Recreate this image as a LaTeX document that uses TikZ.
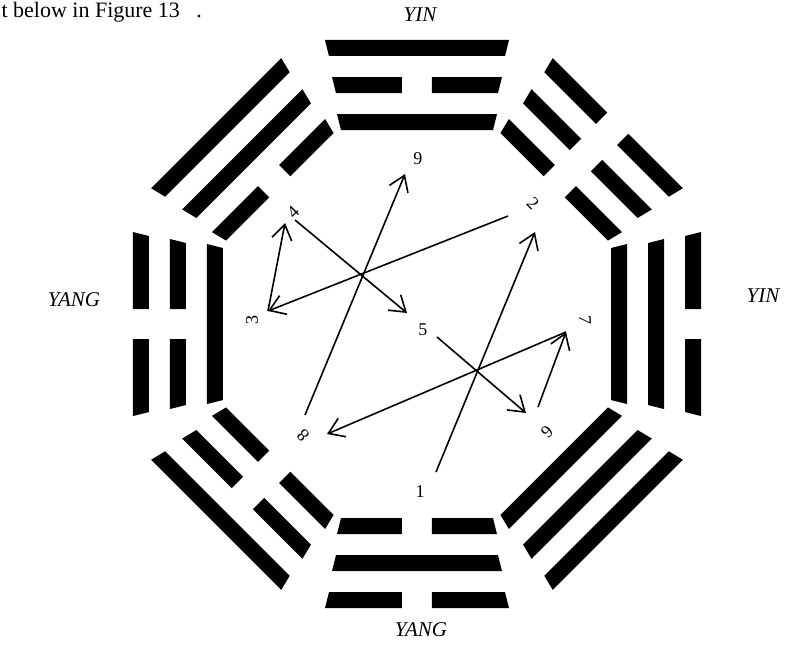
\documentclass[tikz,border=0pt]{standalone}
\usepackage{fontspec}
\setmainfont{Liberation Serif}
\usetikzlibrary{arrows.meta}

% one line of a trigram: inner radius, inner half width, 1 = whole / 0 = broken
\newcommand{\yao}[3]{%
	\ifnum#3=1
		\fill (-#2,#1) -- (#2,#1) -- ({#2+4},{#1+16}) -- ({-#2-4},{#1+16}) -- cycle;
	\else
		\fill (-#2,#1) -- (-15,#1) -- (-15,{#1+16}) -- ({-#2-4},{#1+16}) -- cycle;
		\fill (#2,#1) -- (15,#1) -- (15,{#1+16}) -- ({#2+4},{#1+16}) -- cycle;
	\fi}

\tikzset{
	arr/.style={line width=1.6pt,-{Straight Barb[length=15pt,width=20pt,line width=1.6pt]}},
	num/.style={font=\fontsize{18}{20}\selectfont,inner sep=1pt},
	side/.style={font=\fontsize{21}{25}\selectfont\itshape}
}

\begin{document}
\begin{tikzpicture}[x=1pt,y=1pt]
			\useasboundingbox (-417,-322) rectangle (370,324);
			\node[anchor=base west,font=\fontsize{22}{26}\selectfont] (txt) at (-419,306) {t below in Figure 13 \ \ .};
			% trigrams, inner/middle/outer line
			\foreach \ang/\a/\b/\c in {0/1/0/1,-45/0/0/0,-90/1/1/0,-135/1/1/1,180/0/1/0,135/0/0/1,90/1/0/0,45/0/1/1}{
				\begin{scope}[rotate=\ang]
				\yao{194}{76}{\a}
				\yao{231}{81}{\b}
				\yao{268}{88}{\c}
				\end{scope}
			}
			\node[side] (yinN) at (3,309) {YIN};
			\node[side] (yangS) at (4,-306) {YANG};
			\node[side] (yangW) at (-343,24) {YANG};
			\node[side] (yinE) at (346,28) {YIN};
			% numbers
			\node[num] (n9) at (1,165) {9};
			\node[num,rotate=45] (n4) at (-124,112) {4};
			\node[num,rotate=90] (n3) at (-165,4) {3};
			\node[num,rotate=-45] (n2) at (116,121) {2};
			\node[num] (n5) at (6,-6) {5};
			\node[num,rotate=-90] (n7) at (168,4) {7};
			\node[num,rotate=-135] (n6) at (130,-108) {6};
			\node[num,rotate=135] (n8) at (-114,-111) {8};
			\node[num] (n1) at (3,-168) {1};
			% ends of the path
			\coordinate (s1) at (19,-148);
			\coordinate (t2) at (118,92);
			\coordinate (s2) at (91,108);
			\coordinate (c3) at (-149,13);
			\coordinate (t4) at (-132,101);
			\coordinate (s4) at (-122,104);
			\coordinate (t5) at (-10,11);
			\coordinate (s5) at (20,-13);
			\coordinate (t6) at (109,-89);
			\coordinate (s6) at (121,-83);
			\coordinate (c7) at (149,-8);
			\coordinate (t8) at (-90,-110);
			\coordinate (s8) at (-112,-91);
			\coordinate (t9) at (-12,150);
			\draw[arr] (s1) -- (t2);
			\draw[arr] (s2) -- (c3);
			\draw[arr] (c3) -- (t4);
			\draw[arr] (s4) -- (t5);
			\draw[arr] (s5) -- (t6);
			\draw[arr] (s6) -- (c7);
			\draw[arr] (c7) -- (t8);
			\draw[arr] (s8) -- (t9);
\end{tikzpicture}
\end{document}
